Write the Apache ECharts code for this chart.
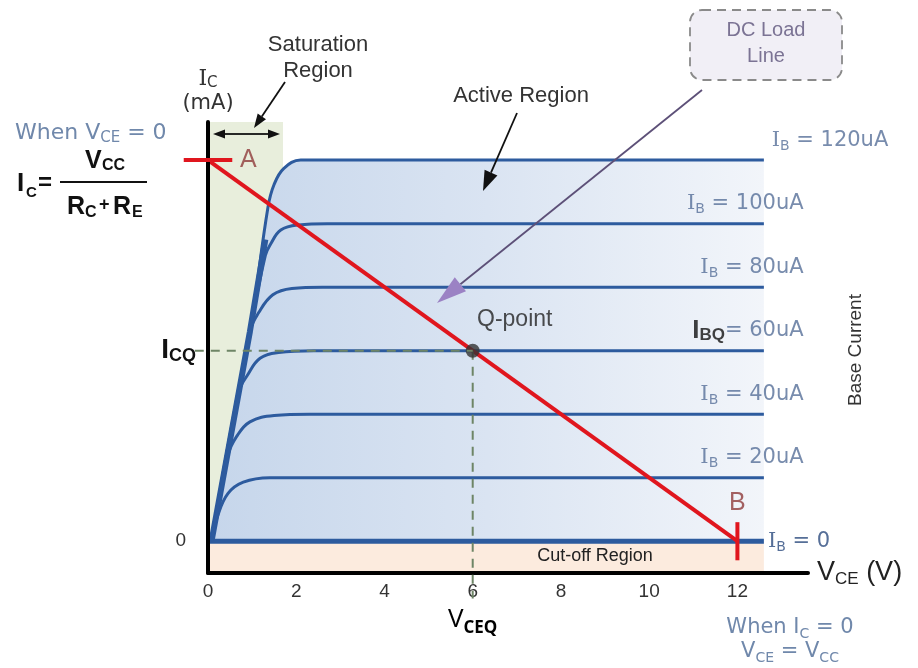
<!DOCTYPE html>
<html>
<head>
<meta charset="utf-8">
<script src="https://cdn.jsdelivr.net/npm/echarts@6/dist/echarts.min.js"></script>
<style>html,body{margin:0;padding:0;background:#fff;}#c{width:918px;height:668px;}</style>
</head>
<body>
<div id="c"></div>
<script>
// ---- data ----
const vceTicks = [0, 2, 4, 6, 8, 10, 12];          // V
const ibLevels = [0, 20, 40, 60, 80, 100, 120];    // uA
const icLevels = [0, 1, 2, 3, 4, 5, 6];            // mA (flat part of each curve)
const curveIB0   = [[0, 0], [12.6, 0]];
const curveIB20  = [[0.08, 0], [0.22, 0.4], [0.45, 0.75], [0.8, 0.93], [1.4, 1.0], [2.2, 1.0], [12.6, 1.0]];
const curveIB40  = [[0.08, 0], [0.45, 1.35], [0.65, 1.65], [0.95, 1.88], [1.5, 1.98], [2.3, 2.0], [12.6, 2.0]];
const curveIB60  = [[0.08, 0], [0.7, 2.35], [0.9, 2.62], [1.18, 2.88], [1.6, 2.97], [2.4, 3.0], [12.6, 3.0]];
const curveIB80  = [[0.08, 0], [0.95, 3.3], [1.15, 3.6], [1.47, 3.88], [1.9, 3.98], [2.6, 4.0], [12.6, 4.0]];
const curveIB100 = [[0.08, 0], [0.95, 3.3], [1.3, 4.5], [1.42, 4.68], [1.65, 4.9], [2.05, 4.98], [2.7, 5.0], [12.6, 5.0]];
const curveIB120 = [[0.08, 0], [0.95, 3.3], [1.36, 5.26], [1.5, 5.62], [1.72, 5.87], [2.1, 6.0], [2.8, 6.0], [12.6, 6.0]];
const envelope   = [[0.08, 0], [0.95, 3.3], [1.3, 4.75]];
const loadLine   = [[0, 6], [12, 0]];               // A (0 V, Vcc/(Rc+Re)) -> B (Vcc, 0)
const qPoint     = [6, 3];                          // VCEQ, ICQ
const saturationEdge = 1.7;                         // V
const curveEnd = 12.6;                              // V

const curves = [curveIB0, curveIB20, curveIB40, curveIB60, curveIB80, curveIB100, curveIB120];

// ---- styling ----
const BLUE = '#2d5b9e';
const LBL = '#566f98';
const WHEN = '#7088ab';
const DARK = '#2a2a2a';
const RED = '#e0161e';
const DASH = '#6e8566';

const chart = echarts.init(document.getElementById('c'), null, {renderer: 'canvas'});

function arrowEls(x1, y1, x2, y2, color, lw, hl, hw, headColor) {
  const a = Math.atan2(y2 - y1, x2 - x1);
  const bx = x2 - hl * Math.cos(a), by = y2 - hl * Math.sin(a);
  const px = -Math.sin(a) * hw / 2, py = Math.cos(a) * hw / 2;
  return [
    {type: 'line', z: 100, shape: {x1: x1, y1: y1, x2: bx, y2: by}, style: {stroke: color, lineWidth: lw}},
    {type: 'polygon', z: 100, shape: {points: [[x2, y2], [bx + px, by + py], [bx - px, by - py]]}, style: {fill: headColor || color}}
  ];
}
function txt(x, y, text, opt) {
  return {type: 'text', z: 100, x: x, y: y, rotation: opt.rotation || 0,
    style: Object.assign({text: text, x: 0, y: 0, align: opt.align || 'left', verticalAlign: 'middle',
      textAlign: opt.align || 'left', textVerticalAlign: 'middle',
      fontFamily: opt.family || 'Liberation Sans', fontSize: opt.size || 18,
      fontWeight: opt.weight || 'normal', fill: opt.color || DARK}, opt.rich ? {rich: opt.rich} : {})};
}

const labelRich = {
  i: {fontFamily: 'DejaVu Serif', fontSize: 21, color: LBL, lineHeight: 26, verticalAlign: 'middle'},
  s: {fontFamily: 'DejaVu Sans', fontSize: 14, color: LBL, lineHeight: 14, verticalAlign: 'bottom'},
  t: {fontFamily: 'DejaVu Sans', fontSize: 21, color: LBL, lineHeight: 26, verticalAlign: 'middle'},
  bi: {fontFamily: 'Liberation Sans', fontWeight: 'bold', fontSize: 26, color: '#111', lineHeight: 26, verticalAlign: 'middle'},
  bs: {fontFamily: 'Liberation Sans', fontWeight: 'bold', fontSize: 17, color: '#111', lineHeight: 14, verticalAlign: 'bottom'}
};

const labelData = ibLevels.slice(1).map((ib, j) => {
  const k = j + 1;
  const isQ = icLevels[k] === qPoint[1];
  return {
    value: [k === ibLevels.length - 1 ? 15.42 : 13.5, icLevels[k]],
    label: {formatter: isQ ? '{bi|I}{bs|BQ}{t|= ' + ib + 'uA}' : '{i|I}{s|B}{t| = ' + ib + 'uA}'}
  };
});

const series = [
  { // regions
    type: 'line', data: [], z: 1, silent: true,
    markArea: {silent: true, data: [
      [{coord: [0, 0], itemStyle: {color: '#e8eedc'}}, {coord: [saturationEdge, 6.6]}],
      [{coord: [0, -0.5], itemStyle: {color: '#fcebde'}}, {coord: [curveEnd, 0]}]
    ]}
  },
  { // active region fill under the top curve
    type: 'line', data: curveIB120, smooth: 0.4, symbol: 'none', z: 2, silent: true,
    lineStyle: {width: 0},
    areaStyle: {opacity: 1, color: new echarts.graphic.LinearGradient(0, 0, 1, 0, [
      {offset: 0, color: '#c6d6eb'}, {offset: 0.5, color: '#dae4f2'}, {offset: 1, color: '#f2f5fa'}])}
  },
  { // thick common rise
    type: 'line', data: envelope, symbol: 'none', z: 3, lineStyle: {color: BLUE, width: 6}
  }
];
curves.forEach((c, k) => {
  series.push({
    type: 'line', name: 'IB=' + ibLevels[k] + 'uA', data: c, smooth: k === 0 ? false : 0.4, symbol: 'none', z: 3,
    lineStyle: {color: BLUE, width: k === 0 ? 5 : 3},
    endLabel: k === 0 ? {show: true, distance: 4, formatter: '{i|I}{s|B}{t| = ' + ibLevels[0] + '}', rich: labelRich} : undefined
  });
});
series.push(
  { // IB labels
    type: 'scatter', data: labelData, symbolSize: 0, z: 6, clip: false, silent: true,
    label: {show: true, position: 'left', distance: 0, offset: [0, -20], rich: labelRich}
  },
  { // Q vertical dashed guide
    type: 'line', data: [qPoint, [qPoint[0], -0.9]], symbol: 'none', z: 12, clip: false,
    lineStyle: {color: DASH, width: 2, type: [9, 7]}
  },
  { // DC load line
    type: 'line', data: loadLine, symbol: 'none', z: 5, clip: false,
    lineStyle: {color: RED, width: 4}
  },
  { // B tick
    type: 'line', data: [[loadLine[1][0], loadLine[1][1] + 0.3], [loadLine[1][0], loadLine[1][1] - 0.3]],
    symbol: 'none', z: 12, clip: false, lineStyle: {color: RED, width: 4}
  },
  { // A / B labels
    type: 'scatter', data: [
      {value: loadLine[0], label: {formatter: 'A', position: 'right', distance: 32}},
      {value: loadLine[1], label: {formatter: 'B', position: 'top', distance: 26}}
    ], symbolSize: 0, z: 6, clip: false, silent: true,
    label: {show: true, color: '#8e3b3b', fontSize: 25, fontFamily: 'Liberation Sans'}
  },
  { // Q point
    type: 'scatter', data: [qPoint], symbolSize: 14, z: 13, itemStyle: {color: '#333'},
    label: {show: true, formatter: 'Q-point', position: 'top', distance: 13, offset: [42, 0],
      fontSize: 23, fontFamily: 'Liberation Sans', color: '#222'}
  }
);

const graphic = [].concat(
  txt(318, 45, 'Saturation', {size: 22, align: 'center', color: '#333'}),
  txt(318, 71, 'Region', {size: 22, align: 'center', color: '#333'}),
  arrowEls(285, 82, 254, 128, '#111', 1.8, 14, 10),
  arrowEls(246, 134, 213, 134, '#111', 1.8, 12, 9),
  arrowEls(246, 134, 280, 134, '#111', 1.8, 12, 9),
  txt(521, 96, 'Active Region', {size: 22, align: 'center', color: '#333'}),
  arrowEls(517, 113, 483, 191, '#111', 1.8, 20, 14),
  [{type: 'rect', z: 100, shape: {x: 690, y: 10, width: 152, height: 70, r: 12},
    style: {fill: '#f1eff6', stroke: '#8a8a8a', lineWidth: 1.8, lineDash: [9, 6]}}],
  txt(766, 30, 'DC Load', {size: 20, align: 'center', color: '#7b7394'}),
  txt(766, 56, 'Line', {size: 20, align: 'center', color: '#7b7394'}),
  arrowEls(702, 90, 437, 303, '#5d5078', 1.8, 30, 18, '#9b82c4'),
  txt(15, 133, 'When V{s|CE}{t| = 0}', {size: 22, family: 'DejaVu Sans', color: WHEN,
    rich: {s: {fontSize: 15, fontFamily: 'DejaVu Sans', fill: WHEN, color: WHEN, lineHeight: 14, verticalAlign: 'bottom'},
           t: {fontSize: 22, fontFamily: 'DejaVu Sans', fill: WHEN, color: WHEN, lineHeight: 26}}}),
  txt(790, 628, 'When I{s|C}{t| = 0}', {size: 21, align: 'center', family: 'DejaVu Sans', color: WHEN,
    rich: {s: {fontSize: 14, fontFamily: 'DejaVu Sans', fill: WHEN, color: WHEN, lineHeight: 14, verticalAlign: 'bottom'},
           t: {fontSize: 21, fontFamily: 'DejaVu Sans', fill: WHEN, color: WHEN, lineHeight: 26}}}),
  txt(790, 652, 'V{s|CE}{t| = V}{s|CC}', {size: 21, align: 'center', family: 'DejaVu Sans', color: WHEN,
    rich: {s: {fontSize: 14, fontFamily: 'DejaVu Sans', fill: WHEN, color: WHEN, lineHeight: 14, verticalAlign: 'bottom'},
           t: {fontSize: 21, fontFamily: 'DejaVu Sans', fill: WHEN, color: WHEN, lineHeight: 26}}}),
  // formula  Ic = Vcc / (Rc + Re)
  txt(17, 184, 'I', {size: 26, weight: 'bold', color: '#111'}),
  txt(26, 193, 'C', {size: 15, weight: 'bold', color: '#111'}),
  txt(38, 183, '=', {size: 24, weight: 'bold', color: '#111'}),
  txt(85, 161, 'V', {size: 25, weight: 'bold', color: '#111'}),
  txt(102, 166, 'CC', {size: 16, weight: 'bold', color: '#111'}),
  [{type: 'line', z: 100, shape: {x1: 60, y1: 182, x2: 147, y2: 182}, style: {stroke: '#111', lineWidth: 2}}],
  txt(67, 207, 'R', {size: 25, weight: 'bold', color: '#111'}),
  txt(85, 213, 'C', {size: 16, weight: 'bold', color: '#111'}),
  txt(99, 205, '+', {size: 18, weight: 'bold', color: '#111'}),
  txt(113, 207, 'R', {size: 25, weight: 'bold', color: '#111'}),
  txt(132, 213, 'E', {size: 16, weight: 'bold', color: '#111'}),
  txt(595, 556, 'Cut-off Region', {size: 18, align: 'center', color: '#222'}),
  txt(856, 350, 'Base Current', {size: 19, align: 'center', color: '#333', rotation: Math.PI / 2})
);

const option = {
  animation: false,
  backgroundColor: '#fff',
  grid: {left: 208, right: 110, top: 122, bottom: 95},
  xAxis: {
    type: 'value', min: 0, max: 13.6, z: 10,
    axisLine: {onZero: false, lineStyle: {color: '#000', width: 4}},
    axisTick: {show: false}, splitLine: {show: false},
    axisLabel: {
      customValues: vceTicks, margin: 8,
      formatter: v => v === qPoint[0] ? '{n|' + v + '}\n{V|V}{Vs|CEQ}' : '{n|' + v + '}',
      rich: {
        n: {fontSize: 19, fontFamily: 'Liberation Sans', color: '#333', lineHeight: 22},
        V: {fontSize: 26, fontFamily: 'Open Sans', color: '#000', lineHeight: 34, verticalAlign: 'middle'},
        Vs: {fontSize: 17, fontFamily: 'Open Sans', fontWeight: 'bold', color: '#000', lineHeight: 18, verticalAlign: 'bottom'}
      }
    },
    name: 'V{s|CE}{t| (V)}', nameLocation: 'end', nameGap: 9,
    nameTextStyle: {fontSize: 27, fontFamily: 'Liberation Sans', color: '#222',
      rich: {s: {fontSize: 17, fontFamily: 'Liberation Sans', color: '#222', lineHeight: 16, verticalAlign: 'bottom'},
             t: {fontSize: 27, fontFamily: 'Liberation Sans', color: '#222', lineHeight: 30}}}
  },
  yAxis: {
    type: 'value', min: -0.5, max: 6.6, z: 10,
    axisLine: {onZero: false, lineStyle: {color: '#000', width: 4}},
    axisTick: {show: false}, splitLine: {show: false},
    axisLabel: {
      customValues: [0, qPoint[1]], margin: 12,
      formatter: v => v === qPoint[1] ? '{I|I}{s|CQ}' : '{z|' + v + '}',
      rich: {
        z: {fontSize: 19, fontFamily: 'Liberation Sans', color: '#333', padding: [0, 10, 0, 0]},
        I: {fontSize: 28, fontFamily: 'Liberation Sans', fontWeight: 'bold', color: '#111', lineHeight: 28, verticalAlign: 'middle'},
        s: {fontSize: 18, fontFamily: 'Liberation Sans', fontWeight: 'bold', color: '#111', lineHeight: 16, verticalAlign: 'bottom'}
      }
    },
    name: '{i|I}{s|C}\n{t|(mA)}', nameLocation: 'end', nameGap: 5,
    nameTextStyle: {align: 'center', rich: {
      i: {fontFamily: 'DejaVu Serif', fontSize: 22, color: '#333', lineHeight: 24},
      s: {fontFamily: 'DejaVu Sans', fontSize: 15, color: '#333', lineHeight: 14, verticalAlign: 'bottom'},
      t: {fontFamily: 'DejaVu Sans', fontSize: 21, color: '#333', lineHeight: 26}
    }}
  },
  series: series,
  graphic: graphic
};
chart.setOption(option);

// marks that extend left of the V axis: placed through the chart's own scales
const toPx = p => chart.convertToPixel({gridIndex: 0}, p);
const a1 = toPx([loadLine[0][0] - 0.55, loadLine[0][1]]);
const a2 = toPx([loadLine[0][0] + 0.55, loadLine[0][1]]);
const h1 = toPx([-0.3, qPoint[1]]);
const h2 = toPx(qPoint);
const extras = [
  {type: 'line', z: 90, shape: {x1: h1[0], y1: h1[1], x2: h2[0], y2: h2[1]},
    style: {stroke: DASH, lineWidth: 2, lineDash: [9, 7]}},
  {type: 'line', z: 95, shape: {x1: a1[0], y1: a1[1], x2: a2[0], y2: a2[1]},
    style: {stroke: RED, lineWidth: 4}}
];
chart.setOption({graphic: graphic.concat(extras)});
</script>
</body>
</html>
